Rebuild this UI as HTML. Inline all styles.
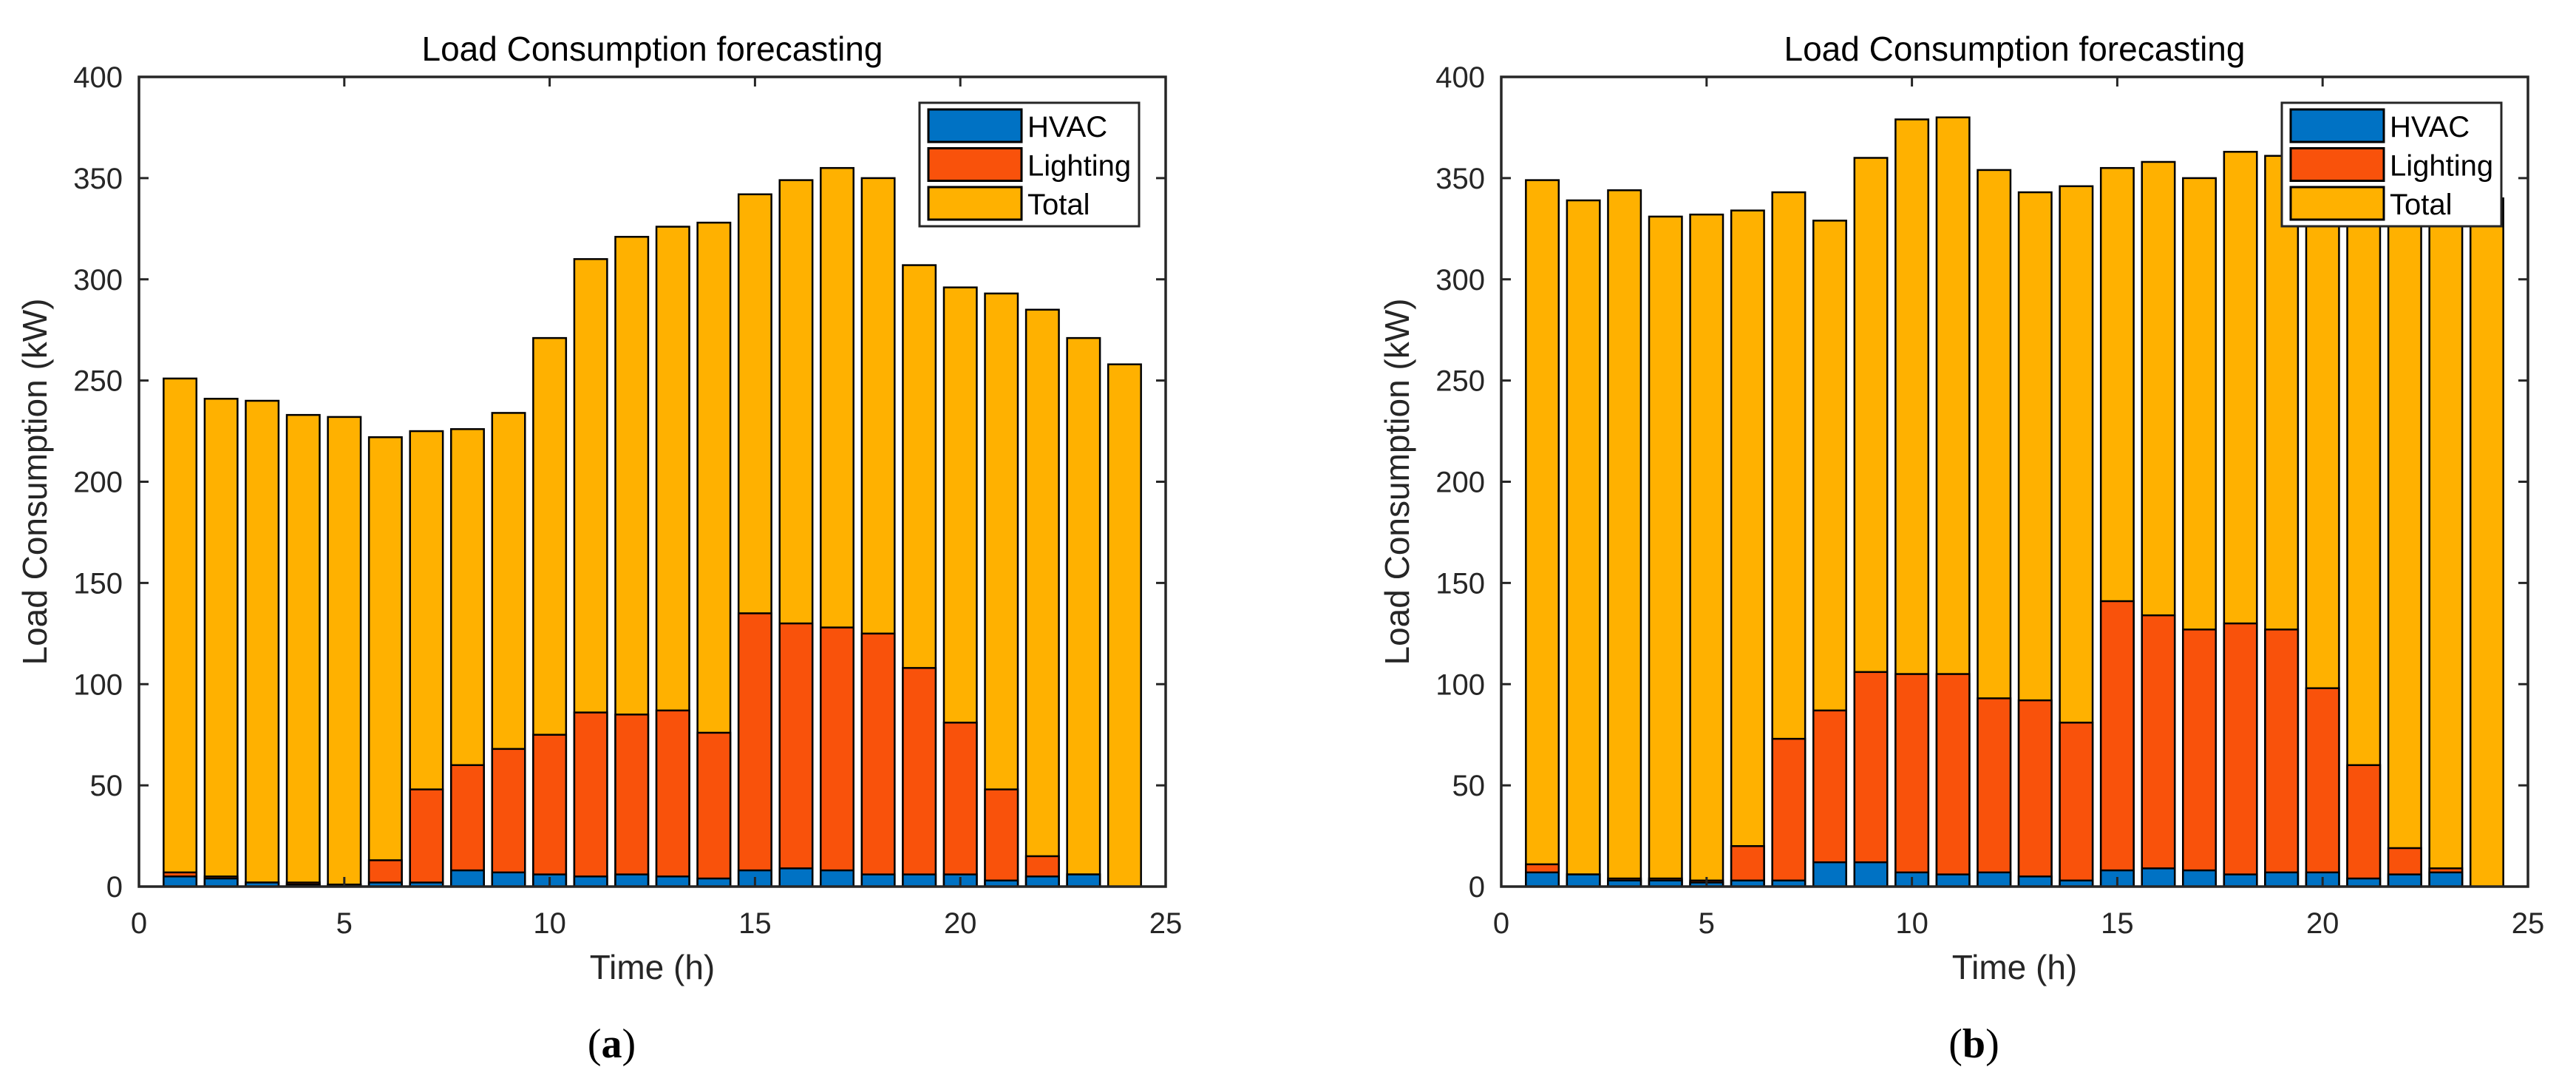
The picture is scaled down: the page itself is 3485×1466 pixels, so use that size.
<!DOCTYPE html>
<html><head><meta charset="utf-8"><style>
html,body{margin:0;padding:0;background:#fff;}
svg{display:block;font-family:"Liberation Sans",Arial,sans-serif;}
</style></head><body>
<svg id="fig" width="3485" height="1466" viewBox="0 0 3485 1466" xmlns="http://www.w3.org/2000/svg"></svg>
<script>
const hours = [1,2,3,4,5,6,7,8,9,10,11,12,13,14,15,16,17,18,19,20,21,22,23,24];
const totalA = [251,241,240,233,232,222,225,226,234,271,310,321,326,328,342,349,355,350,307,296,293,285,271,258];
const lightingA = [7,5,2,2,1,13,48,60,68,75,86,85,87,76,135,130,128,125,108,81,48,15,6,0];
const hvacA = [5,4,2,1,1,2,2,8,7,6,5,6,5,4,8,9,8,6,6,6,3,5,6,0];
const totalB = [349,339,344,331,332,334,343,329,360,379,380,354,343,346,355,358,350,363,361,345,348,350,352,340];
const lightingB = [11,6,4,4,3,20,73,87,106,105,105,93,92,81,141,134,127,130,127,98,60,19,9,0];
const hvacB = [7,6,3,3,2,3,3,12,12,7,6,7,5,3,8,9,8,6,7,7,4,6,7,0];
const xTicks = [0,5,10,15,20,25];
const yTicks = [0,50,100,150,200,250,300,350,400];
const seriesNames = ["HVAC","Lighting","Total"];
const colors = {HVAC:"#0072C4",Lighting:"#F9520B",Total:"#FFB100"};

const NS = "http://www.w3.org/2000/svg";
const svg = document.getElementById("fig");
function mk(tag, attrs, parent){
  const e = document.createElementNS(NS, tag);
  for (const k in attrs) e.setAttribute(k, attrs[k]);
  (parent||svg).appendChild(e);
  return e;
}

function drawPanel(px0, px1, key, letter, total, lighting, hvac){
  const py0 = 104, py1 = 1199;
  const g = mk("g", {});
  
  
  const xs = v => px0 + (v - 0) / 25 * (px1 - px0);
  const ys = v => py1 - v / 400 * (py1 - py0);
  const bw = 0.8 * (px1 - px0) / 25;
  const series = [["Total", total], ["Lighting", lighting], ["HVAC", hvac]];
  series.forEach(([name, vals]) => {
    vals.forEach((v, i) => {
      if (v <= 0) return;
      const r = mk("rect", {x: xs(hours[i]) - bw/2, y: ys(v), width: bw, height: ys(0) - ys(v),
        fill: colors[name], stroke: "#000", "stroke-width": 2.5}, g);
      
      
    });
  });
  // axes box
  const box = mk("rect", {x: px0, y: py0, width: px1 - px0, height: py1 - py0, fill: "none", stroke: "#262626", "stroke-width": 3.5}, g);
  
  
  xTicks.forEach(t => {
    const x = xs(t);
    mk("line", {x1: x, x2: x, y1: py1, y2: py1 - 13, stroke: "#262626", "stroke-width": 3}, g);
    mk("line", {x1: x, x2: x, y1: py0, y2: py0 + 13, stroke: "#262626", "stroke-width": 3}, g);
    const tx = mk("text", {x: x, y: 1262, "font-size": 40, fill: "#262626", "text-anchor": "middle"}, g);
    tx.textContent = t;
    
    
  });
  yTicks.forEach(t => {
    const y = ys(t);
    mk("line", {x1: px0, x2: px0 + 13, y1: y, y2: y, stroke: "#262626", "stroke-width": 3}, g);
    mk("line", {x1: px1, x2: px1 - 13, y1: y, y2: y, stroke: "#262626", "stroke-width": 3}, g);
    const ty = mk("text", {x: px0 - 22, y: y + 14, "font-size": 40, fill: "#262626", "text-anchor": "end"}, g);
    ty.textContent = t;
    
    
  });
  const cx = (px0 + px1) / 2;
  const title = mk("text", {x: cx, y: 82, "font-size": 46, fill: "#000", "text-anchor": "middle"}, g);
  title.textContent = "Load Consumption forecasting";
  
  
  const xl = mk("text", {x: cx, y: 1324, "font-size": 46, fill: "#262626", "text-anchor": "middle"}, g);
  xl.textContent = "Time (h)";
  
  
  const ylx = px0 - 125, yly = (py0 + py1) / 2;
  const yl = mk("text", {x: ylx, y: yly, "font-size": 46, fill: "#262626", "text-anchor": "middle", transform: "rotate(-90 " + ylx + " " + yly + ")"}, g);
  yl.textContent = "Load Consumption (kW)";
  
  
  const cap = mk("text", {x: cx - 55, y: 1430, "font-size": 56, fill: "#000", "text-anchor": "middle", "font-family": "Liberation Serif, serif"}, g);
  cap.innerHTML = '(<tspan font-weight="bold">' + letter + '</tspan>)';
  
  
  // legend
  const lx1 = px1 - 36, lx0 = lx1 - 297, ly0 = 139, ly1 = 306;
  const lg = mk("g", {}, g);
  
  
  mk("rect", {x: lx0, y: ly0, width: lx1 - lx0, height: ly1 - ly0, fill: "#fff", stroke: "#262626", "stroke-width": 3}, lg);
  seriesNames.forEach((n, i) => {
    const cy = 170 + i * 52.5;
    const sw = mk("rect", {x: lx0 + 12, y: cy - 22, width: 126, height: 44, fill: colors[n], stroke: "#000", "stroke-width": 3}, lg);
    
    
    const lt = mk("text", {x: lx0 + 146, y: cy + 15, "font-size": 40, fill: "#000"}, lg);
    lt.textContent = n;
    
    
  });
}
drawPanel(188, 1577, "a", "a", totalA, lightingA, hvacA);
drawPanel(2031, 3420, "b", "b", totalB, lightingB, hvacB);
</script>
</body></html>
